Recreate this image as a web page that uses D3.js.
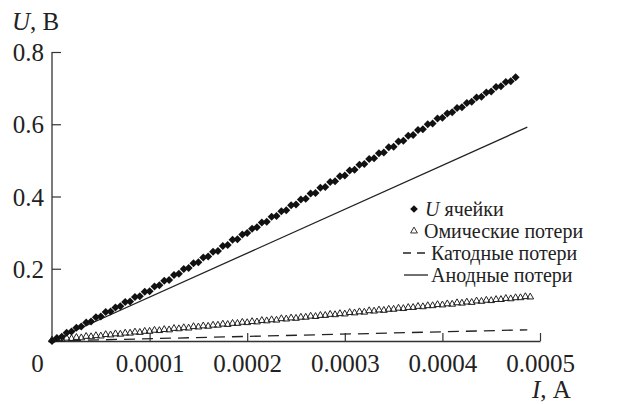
<!DOCTYPE html>
<html>
<head>
<meta charset="utf-8">
<script src="https://cdn.jsdelivr.net/npm/d3@7"></script>
<style>
  html, body { margin: 0; padding: 0; background: #fff; }
  svg { display: block; }
  svg text { font-family: "Liberation Serif", "Times New Roman", Tinos, "DejaVu Serif", "Noto Serif", serif; fill: #222; }
</style>
</head>
<body>
<svg id="chart" width="627" height="404"></svg>
<script>
// Cell voltage: current (µA) and voltage (V)
const cellCurrent = [0,5,10,15,20,25,30,35,40,45,50,55,60,65,70,75,80,85,90,95,
  100,105,110,115,120,125,130,135,140,145,150,155,160,165,170,175,180,185,190,195,
  200,205,210,215,220,225,230,235,240,245,250,255,260,265,270,275,280,285,290,295,
  300,305,310,315,320,325,330,335,340,345,350,355,360,365,370,375,380,385,390,395,
  400,405,410,415,420,425,430,435,440,445,450,455,460,465,470,475];
const cellVoltage = [0.000,0.008,0.012,0.023,0.026,0.037,0.040,0.051,0.054,0.066,
  0.068,0.080,0.082,0.093,0.096,0.108,0.109,0.122,0.124,0.136,
  0.138,0.151,0.154,0.167,0.169,0.183,0.186,0.199,0.202,0.215,
  0.218,0.231,0.234,0.247,0.249,0.263,0.266,0.280,0.282,0.295,
  0.299,0.311,0.315,0.328,0.330,0.344,0.346,0.359,0.362,0.376,
  0.378,0.392,0.394,0.408,0.410,0.424,0.426,0.440,0.442,0.456,
  0.458,0.472,0.474,0.488,0.490,0.504,0.506,0.520,0.522,0.536,
  0.538,0.552,0.554,0.568,0.570,0.584,0.586,0.600,0.602,0.616,
  0.618,0.630,0.633,0.645,0.647,0.659,0.662,0.674,0.676,0.688,
  0.691,0.703,0.705,0.717,0.719,0.730];

// Ohmic losses
const ohmicCurrent = [0,5,10,15,20,25,30,35,40,45,50,55,60,65,70,75,80,85,90,95,
  100,105,110,115,120,125,130,135,140,145,150,155,160,165,170,175,180,185,190,195,
  200,205,210,215,220,225,230,235,240,245,250,255,260,265,270,275,280,285,290,295,
  300,305,310,315,320,325,330,335,340,345,350,355,360,365,370,375,380,385,390,395,
  400,405,410,415,420,425,430,435,440,445,450,455,460,465,470,475,480,485,490];
const ohmicVoltage = [0.000,0.002,0.002,0.005,0.004,0.007,0.006,0.010,0.009,0.012,
  0.011,0.015,0.014,0.017,0.016,0.019,0.019,0.022,0.021,0.024,
  0.024,0.027,0.026,0.029,0.028,0.032,0.031,0.034,0.033,0.037,
  0.036,0.039,0.038,0.041,0.041,0.044,0.043,0.046,0.046,0.049,
  0.048,0.051,0.050,0.054,0.053,0.056,0.055,0.059,0.058,0.061,
  0.060,0.063,0.063,0.066,0.065,0.068,0.068,0.071,0.070,0.073,
  0.072,0.076,0.075,0.078,0.077,0.081,0.080,0.083,0.082,0.085,
  0.085,0.088,0.087,0.090,0.090,0.093,0.092,0.095,0.095,0.098,
  0.097,0.100,0.099,0.103,0.102,0.105,0.104,0.108,0.107,0.110,
  0.109,0.112,0.112,0.115,0.114,0.117,0.117,0.120,0.119];

// Cathode and anode losses
const cathodeCurrent = [0, 487];
const cathodeVoltage = [0, 0.031];
const anodeCurrent = [0, 487];
const anodeVoltage = [0, 0.592];

// Axes
const xTicks = [0, 0.0001, 0.0002, 0.0003, 0.0004, 0.0005];
const xTickLabels = ["0", "0.0001", "0.0002", "0.0003", "0.0004", "0.0005"];
const yTicks = [0.2, 0.4, 0.6, 0.8];
const yTickLabels = ["0.2", "0.4", "0.6", "0.8"];

const legendLabels = ["ячейки", "Омические потери", "Катодные потери", "Анодные потери"];

const FONT = '"Liberation Serif", "Times New Roman", Tinos, "DejaVu Serif", serif';
const svg = d3.select("#chart");
const x = d3.scaleLinear().domain([0, 0.0005]).range([52, 540]);
const y = d3.scaleLinear().domain([0, 0.8]).range([341, 52]);
const uA = v => v * 1e-6;

// X axis
const gx = svg.append("g").attr("transform", `translate(0,${y(0)})`)
  .call(d3.axisBottom(x).tickValues(xTicks).tickSizeInner(-8).tickSizeOuter(0)
    .tickFormat((d, i) => xTickLabels[i]));
gx.attr("font-family", FONT);
gx.select(".domain").attr("stroke", "#333").attr("stroke-width", 1.3);
gx.selectAll(".tick line").attr("stroke", "#333").attr("stroke-width", 1.2);
gx.selectAll(".tick text").attr("font-size", 25).attr("font-family", FONT)
  .attr("fill", "#222").attr("y", 31).attr("dy", 0)
  .attr("dx", (d, i) => i === 0 ? -15 : 0);
gx.selectAll(".tick").filter(d => d === 0).select("line").remove();

// Y axis
const gy = svg.append("g").attr("transform", `translate(${x(0)},0)`)
  .call(d3.axisLeft(y).tickValues(yTicks).tickSizeInner(-9).tickSizeOuter(0).tickPadding(8)
    .tickFormat((d, i) => yTickLabels[i]));
gy.attr("font-family", FONT);
gy.select(".domain").attr("stroke", "#333").attr("stroke-width", 1.3)
  .attr("d", `M0,${y(0)}V${y(0.8)}`);
gy.selectAll(".tick line").attr("stroke", "#333").attr("stroke-width", 1.2);
gy.selectAll(".tick text").attr("font-size", 25).attr("font-family", FONT)
  .attr("fill", "#222").attr("dy", "0.34em");

// Axis titles
const ty = svg.append("text").attr("x", 12).attr("y", 30).attr("font-size", 25).attr("font-family", FONT);
ty.append("tspan").attr("font-style", "italic").text("U");
ty.append("tspan").text(", В");
const tx = svg.append("text").attr("x", 532).attr("y", 398).attr("font-size", 25).attr("font-family", FONT);
tx.append("tspan").attr("font-style", "italic").text("I");
tx.append("tspan").text(", А");

const line = d3.line().x(d => x(uA(d[0]))).y(d => y(d[1]));

// Anode losses (solid)
svg.append("path").datum(d3.zip(anodeCurrent, anodeVoltage))
  .attr("d", line).attr("fill", "none").attr("stroke", "#222").attr("stroke-width", 1.3);

// Cathode losses (dashed)
svg.append("path").datum(d3.zip(cathodeCurrent, cathodeVoltage))
  .attr("d", line).attr("fill", "none").attr("stroke", "#222").attr("stroke-width", 1.3)
  .attr("stroke-dasharray", "11,7");

// Ohmic losses (hollow triangles)
const tri = d3.symbol().type(d3.symbolTriangle).size(20);
svg.append("g").selectAll("path").data(d3.zip(ohmicCurrent, ohmicVoltage)).join("path")
  .attr("d", tri).attr("transform", d => `translate(${x(uA(d[0]))},${y(d[1]) - 1})`)
  .attr("fill", "none").attr("stroke", "#222").attr("stroke-width", 1);

// Cell voltage (filled diamonds)
const dia = d3.symbol().type(d3.symbolSquare).size(32);
svg.append("g").selectAll("path").data(d3.zip(cellCurrent, cellVoltage)).join("path")
  .attr("d", dia).attr("transform", d => `translate(${x(uA(d[0]))},${y(d[1])}) rotate(45)`)
  .attr("fill", "#111");

// Legend
const lg = svg.append("g").attr("font-size", 20).attr("font-family", FONT);
const rowY = [209, 231, 253, 275];
lg.append("path").attr("d", d3.symbol().type(d3.symbolSquare).size(30))
  .attr("transform", `translate(414,${rowY[0]}) rotate(45)`).attr("fill", "#111");
lg.append("path").attr("d", d3.symbol().type(d3.symbolTriangle).size(20))
  .attr("transform", `translate(414,${rowY[1]})`)
  .attr("fill", "none").attr("stroke", "#333").attr("stroke-width", 1);
lg.append("line").attr("x1", 403).attr("x2", 426).attr("y1", rowY[2]).attr("y2", rowY[2])
  .attr("stroke", "#222").attr("stroke-width", 1.3).attr("stroke-dasharray", "8,6");
lg.append("line").attr("x1", 404).attr("x2", 428).attr("y1", rowY[3]).attr("y2", rowY[3])
  .attr("stroke", "#222").attr("stroke-width", 1.3);
const textX = [425, 424, 431, 431];
const t0 = lg.append("text").attr("x", textX[0]).attr("y", rowY[0]).attr("dy", "0.33em");
t0.append("tspan").attr("font-style", "italic").text("U");
t0.append("tspan").text(" " + legendLabels[0]);
legendLabels.slice(1).forEach((s, i) => {
  lg.append("text").attr("x", textX[i + 1]).attr("y", rowY[i + 1]).attr("dy", "0.33em").text(s);
});
</script>
</body>
</html>
